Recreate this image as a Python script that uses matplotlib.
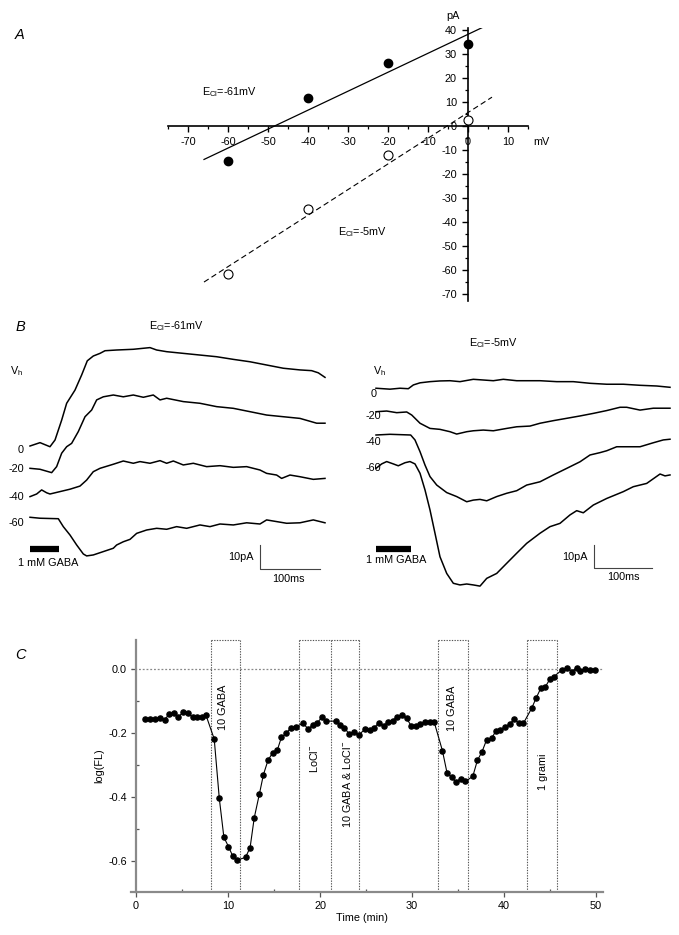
import matplotlib
matplotlib.use('Agg')
import matplotlib.pyplot as plt
from matplotlib.ticker import MultipleLocator, FormatStrFormatter

plt.rcParams['font.family'] = ['Liberation Sans', 'DejaVu Sans']
plt.rcParams['mathtext.fontset'] = 'custom'
plt.rcParams['mathtext.rm'] = 'Liberation Sans'
plt.rcParams['mathtext.it'] = 'Liberation Sans:italic'
plt.rcParams['mathtext.default'] = 'regular'
plt.rcParams['axes.unicode_minus'] = False

# ---------------- Data: panel A (I-V relation) ----------------
iv_mv = [-60, -40, -20, 0]
iv_ecl61 = [-14.5, 11.8, 26.4, 34.0]
iv_ecl5 = [-61.8, -34.7, -12.1, 2.5]
fit61_slope, fit61_icpt = 0.79, 38.2
fit5_slope, fit5_icpt = 1.07, 5.6
fit_range = [-66, 6]
xticksA = [-70, -60, -50, -40, -30, -20, -10, 0, 10]
yticksA = [-70, -60, -50, -40, -30, -20, -10, 0, 10, 20, 30, 40]

# ---------------- Data: panel B (current traces, ms / pA, display offsets) ----------------
vh_labels = ['0', '-20', '-40', '-60']
# E_Cl = -61 mV
L0_t = [0, 16.7, 33.3, 41.7, 52.8, 61.1, 75, 86.1, 95.5, 105.5, 116.7, 125, 144.4, 172.2, 200, 211.1,
        227.8, 255.5, 283.3, 311.1, 338.9, 366.7, 394.4, 422.2, 450, 469.4, 480.5, 491.7]
L0_i = [0, 1.4, -0.3, 2.5, 10.8, 17.8, 23.3, 29.6, 35.5, 37.5, 38.6, 39.7, 40.0, 40.3, 41.0, 40.0,
        39.3, 38.6, 37.9, 37.2, 36.1, 35.1, 33.75, 32.4, 31.7, 31.4, 30.5, 28.6]
L20_t = [0, 16.7, 36.1, 44.4, 52.8, 61.1, 69.4, 80.5, 91.7, 102.8, 111.1, 122.2, 138.9, 155.5, 172.2,
         188.9, 205.5, 216.7, 227.8, 255.5, 283.3, 311.1, 338.9, 366.7, 394.4, 422.2, 450, 477.8, 491.7]
L20_i = [-9.3, -9.7, -11.1, -8.6, -3.0, -0.3, 1.1, 6.0, 12.2, 15.0, 19.2, 20.5, 21.25, 20.5, 21.25,
         20.3, 21.25, 19.2, 19.9, 18.5, 17.8, 16.4, 15.7, 14.3, 12.9, 12.2, 11.5, 9.5, 9.5]
L40_t = [0, 11.1, 19.4, 27.8, 33.3, 50, 66.7, 83.3, 94.4, 105.5, 116.7, 138.9, 155.5, 172.2, 183.3, 200,
         216.7, 227.8, 238.9, 255.5, 272.2, 294.4, 316.7, 338.9, 361.1, 383.3, 394.4, 411.1, 419.4,
         433.3, 450, 472.2, 491.7]
L40_i = [-21.1, -20.0, -18.3, -19.5, -20.0, -19.0, -18.0, -16.7, -14.2, -10.7, -9.3, -7.6, -6.25, -7.2,
         -6.5, -7.2, -6.1, -7.2, -6.25, -7.9, -7.2, -8.6, -8.2, -8.9, -8.6, -10.0, -11.4, -12.1, -13.5,
         -12.1, -12.8, -13.9, -13.5]
L60_t = [0, 16.7, 47.2, 55.5, 66.7, 77.8, 88.9, 94.4, 105.5, 122.2, 138.9, 144.4, 155.5, 166.7, 177.8,
         194.4, 211.1, 227.8, 244.4, 261.1, 283.3, 300, 316.7, 338.9, 361.1, 383.3, 394.4, 411.1, 427.8,
         450, 472.2, 491.7]
L60_i = [-29.7, -30.1, -30.3, -33.6, -37.1, -41.25, -45.0, -45.8, -45.4, -44.0, -42.6, -41.25, -39.9,
         -38.9, -36.4, -35.0, -34.3, -34.7, -33.6, -34.3, -32.9, -33.6, -32.5, -32.9, -32.0, -32.5, -30.8,
         -31.5, -32.2, -32.0, -30.8, -32.0]
# E_Cl = -5 mV
R0_t = [0, 24.1, 41.4, 55.7, 64.4, 75.9, 93.1, 110.3, 127.6, 144.8, 167.8, 185.0, 202.3, 219.5, 242.6,
        265.5, 282.8, 311.6, 340.2, 369.0, 397.8, 426.4, 455.2, 484.0, 506.9]
R0_i = [-0.1, -0.5, -0.1, -0.3, 1.3, 2.2, 2.7, 3.0, 3.1, 2.7, 3.7, 3.4, 3.1, 3.7, 3.1, 3.1, 3.1, 2.7,
        2.7, 2.0, 1.6, 1.6, 1.15, 0.85, 0.3]
R20_t = [0, 18.4, 35.7, 52.9, 61.6, 75.9, 93.1, 110.3, 127.6, 139.1, 156.4, 167.8, 185.0, 202.3, 225.3,
         242.6, 265.5, 282.8, 305.7, 328.8, 351.7, 374.7, 397.8, 420.7, 432.2, 455.2, 478.1, 506.9]
R20_i = [-10.1, -9.8, -10.5, -10.2, -11.5, -15.0, -17.2, -17.6, -18.6, -19.6, -18.6, -18.2, -17.9,
         -18.2, -17.2, -16.5, -16.2, -15.0, -13.9, -12.9, -11.9, -10.8, -9.6, -8.2, -8.2, -9.4, -8.6, -8.6]
R40_t = [0, 24.1, 59.8, 67.2, 75.9, 84.5, 93.1, 104.7, 121.9, 139.1, 156.4, 167.8, 179.3, 190.9, 208.1,
         225.3, 242.6, 259.8, 282.8, 305.7, 328.8, 351.7, 369.0, 386.2, 397.8, 415.0, 432.2, 455.2,
         478.1, 495.3, 506.9]
R40_i = [-20.0, -19.7, -20.0, -22.1, -27.1, -32.8, -37.7, -41.3, -44.5, -46.2, -48.4, -47.7, -47.4,
         -48.0, -46.2, -44.8, -43.7, -41.3, -39.9, -37.0, -34.2, -31.4, -28.5, -27.5, -26.7, -25.0,
         -25.0, -25.0, -23.3, -22.1, -21.8]
R60_t = [0, 9.8, 18.4, 29.8, 38.4, 50.0, 58.6, 67.2, 75.9, 84.5, 93.1, 101.7, 110.3, 121.9, 133.3, 144.8,
         156.4, 167.8, 179.3, 190.9, 208.1, 225.3, 242.6, 259.8, 282.8, 300.0, 317.2, 334.5, 346.0,
         357.4, 374.7, 397.8, 426.4, 443.6, 466.7, 489.7, 498.3, 506.9]
R60_i = [-34.2, -32.3, -31.3, -32.3, -33.1, -31.8, -31.3, -32.3, -36.3, -43.4, -51.9, -61.8, -71.8,
         -78.9, -83.1, -83.8, -83.4, -83.8, -84.3, -81.0, -78.9, -74.6, -70.3, -66.1, -61.8, -59.0,
         -57.6, -54.0, -52.2, -53.1, -49.8, -47.0, -44.1, -42.0, -40.6, -36.6, -37.4, -37.0]
gaba_left_ms = [0, 48]
gaba_right_ms = [0, 60]

# ---------------- Data: panel C (time course) ----------------
c_time = [1.0, 1.55, 2.05, 2.6, 3.1, 3.6, 4.1, 4.6, 5.15, 5.65, 6.15, 6.65, 7.15, 7.6,
          8.5, 9.05, 9.55, 10.05, 10.5, 11.0,
          11.9, 12.4, 12.85, 13.4, 13.85, 14.35, 14.85, 15.35, 15.8, 16.35, 16.85, 17.35,
          18.2, 18.7, 19.2, 19.7, 20.2, 20.65,
          21.7, 22.15, 22.65, 23.15, 23.7, 24.2,
          24.9, 25.4, 25.9, 26.4, 26.9, 27.4, 27.9, 28.4, 28.9, 29.4, 29.9, 30.4, 30.9, 31.4, 31.9, 32.4,
          33.3, 33.8, 34.3, 34.75, 35.3, 35.8,
          36.6, 37.1, 37.6, 38.1, 38.65, 39.1, 39.6, 40.1, 40.6, 41.1, 41.6, 42.1,
          43.0, 43.5, 44.0, 44.5, 45.0, 45.4,
          46.3, 46.8, 47.35, 47.9, 48.3, 48.8, 49.3, 49.9]
c_logfl = [-0.157, -0.157, -0.157, -0.153, -0.159, -0.141, -0.139, -0.149, -0.135, -0.139, -0.151,
           -0.151, -0.151, -0.144,
           -0.219, -0.404, -0.526, -0.555, -0.584, -0.597,
           -0.589, -0.558, -0.465, -0.392, -0.330, -0.285, -0.262, -0.254, -0.214, -0.200, -0.183, -0.180,
           -0.170, -0.188, -0.175, -0.168, -0.151, -0.163,
           -0.163, -0.175, -0.183, -0.203, -0.196, -0.206,
           -0.188, -0.191, -0.183, -0.168, -0.177, -0.166, -0.161, -0.149, -0.144, -0.154, -0.177,
           -0.177, -0.173, -0.165, -0.165, -0.165,
           -0.255, -0.324, -0.339, -0.353, -0.343, -0.351,
           -0.336, -0.286, -0.259, -0.222, -0.217, -0.194, -0.191, -0.180, -0.173, -0.156, -0.170, -0.170,
           -0.123, -0.090, -0.060, -0.055, -0.031, -0.024,
           -0.003, 0.004, -0.008, 0.004, -0.005, -0.001, -0.003, -0.003]
box_labels = ['10 GABA', 'LoCl$^{-}$', '10 GABA & LoCl$^{-}$', '10 GABA', '1 grami']
box_start = [8.15, 17.7, 21.2, 32.8, 42.5]
box_end = [11.3, 21.2, 24.2, 36.1, 45.8]
box_text_x = [9.5, 19.3, 22.9, 34.3, 44.2]
box_text_y = [-0.12, -0.28, -0.36, -0.124, -0.32]

W, H = 679, 935
fig = plt.figure(figsize=(W / 100, H / 100), dpi=100)


def px_axes(x0, y0, x1, y1):
    return fig.add_axes([x0 / W, 1 - y1 / H, (x1 - x0) / W, (y1 - y0) / H])


FS = 7.8
# ======================= Panel A =======================
axA = px_axes(168, 27.6, 528, 301.2)
axA.set_xlim(-75, 15)
axA.set_ylim(-73, 41)
axA.patch.set_visible(False)
for s in ['top', 'right']:
    axA.spines[s].set_visible(False)
axA.spines['left'].set_position(('data', 0))
axA.spines['bottom'].set_position(('data', 0))
for s in ['left', 'bottom']:
    axA.spines[s].set_linewidth(1.2)
axA.set_xticks(xticksA)
axA.set_yticks(yticksA)
axA.xaxis.set_minor_locator(MultipleLocator(5))
axA.yaxis.set_minor_locator(MultipleLocator(5))
axA.tick_params(which='major', direction='out', length=4, width=1.0, labelsize=FS, pad=4)
axA.tick_params(which='minor', direction='out', length=2.5, width=0.9)
fx = [fit_range[0], fit_range[1]]
axA.plot(fx, [fit61_slope * v + fit61_icpt for v in fx], color='black', lw=0.9)
axA.plot(fx, [fit5_slope * v + fit5_icpt for v in fx], color='black', lw=0.8, ls=(0, (5, 3)))
axA.plot(iv_mv, iv_ecl61, 'o', color='black', ms=6, zorder=5)
axA.plot(iv_mv, iv_ecl5, 'o', mfc='white', mec='black', mew=0.8, ms=6.5, zorder=5)
axA.text(-3.75, 45.8, 'pA', fontsize=FS, ha='center', va='center', clip_on=False)
axA.text(18.25, -6.7, 'mV', fontsize=FS, ha='center', va='center', clip_on=False)
axA.text(-59.5, 14.3, 'E$_{Cl}$=-61mV', fontsize=FS, ha='center', va='center')
axA.text(-26.25, -44.2, 'E$_{Cl}$=-5mV', fontsize=FS, ha='center', va='center')
fig.text(20 / W, 1 - 35 / H, 'A', fontsize=10.5, style='italic', ha='center', va='center')

# ======================= Panel B =======================
trace_lw = 1.1
axBL = px_axes(0, 310, 340, 600)
axBL.set_xlim(-50, 516.7)
axBL.set_ylim(-64.17, 56.67)
axBL.axis('off')
for tt, ii in [(L0_t, L0_i), (L20_t, L20_i), (L40_t, L40_i), (L60_t, L60_i)]:
    axBL.plot(tt, ii, color='black', lw=trace_lw)
for lab, yy in zip(vh_labels, [-1.7, -9.6, -21.1, -32.0]):
    axBL.text(-10, yy, lab, fontsize=FS, ha='right', va='center')
axBL.text(-33, 31.4, 'V$_h$', fontsize=FS, ha='left', va='center')
axBL.text(244, 50, 'E$_{Cl}$=-61mV', fontsize=FS, ha='center', va='center')
axBL.plot(gaba_left_ms, [-43.1, -43.1], color='black', lw=4.5, solid_capstyle='butt')
axBL.text(30, -48.75, '1 mM GABA', fontsize=FS, ha='center', va='center')
axBL.plot([383.3, 383.3, 483.3], [-41.25, -51.25, -51.25], color='#444444', lw=0.8)
axBL.text(373, -46.3, '10pA', fontsize=FS, ha='right', va='center')
axBL.text(430, -55.3, '100ms', fontsize=FS, ha='center', va='center')
fig.text(20 / W, 1 - 327 / H, 'B', fontsize=10.5, style='italic', ha='center', va='center')

axBR = px_axes(340, 310, 679, 600)
axBR.set_xlim(-62.07, 522.4)
axBR.set_ylim(-90.21, 33.19)
axBR.axis('off')
for tt, ii in [(R0_t, R0_i), (R20_t, R20_i), (R40_t, R40_i), (R60_t, R60_i)]:
    axBR.plot(tt, ii, color='black', lw=trace_lw)
for lab, yy in zip(vh_labels, [-2.6, -11.8, -23.1, -34.2]):
    axBR.text(-4, yy, lab, fontsize=FS, ha='center', va='center')
axBR.text(6.9, 7.2, 'V$_h$', fontsize=FS, ha='center', va='center')
axBR.text(202, 19.3, 'E$_{Cl}$=-5mV', fontsize=FS, ha='center', va='center')
axBR.plot(gaba_right_ms, [-68.3, -68.3], color='black', lw=4.5, solid_capstyle='butt')
axBR.text(34.5, -73.3, '1 mM GABA', fontsize=FS, ha='center', va='center')
axBR.plot([375.9, 375.9, 475.9], [-66.6, -76.6, -76.6], color='#444444', lw=0.8)
axBR.text(365, -72.0, '10pA', fontsize=FS, ha='right', va='center')
axBR.text(426, -80.6, '100ms', fontsize=FS, ha='center', va='center')

# ======================= Panel C =======================
c_ylim = (-0.697, 0.0906)
axC = px_axes(130.5, 640, 603.4, 892)
axC.set_xlim(-0.6, 50.8)
axC.set_ylim(*c_ylim)
for s in ['top', 'right']:
    axC.spines[s].set_visible(False)
axC.spines['left'].set_position(('data', 0))
for s in ['left', 'bottom']:
    axC.spines[s].set_color('#8a8a8a')
    axC.spines[s].set_linewidth(1.6)
axC.set_xticks([0, 10, 20, 30, 40, 50])
axC.set_yticks([0.0, -0.2, -0.4, -0.6])
axC.yaxis.set_major_formatter(FormatStrFormatter('%.1f'))
axC.xaxis.set_minor_locator(MultipleLocator(5))
axC.yaxis.set_minor_locator(MultipleLocator(0.1))
axC.tick_params(which='major', direction='out', length=3.5, width=0.9, color='#555555',
                labelsize=FS, pad=3)
axC.tick_params(which='minor', direction='in', length=2.5, width=0.9, color='#555555')
axC.axhline(0, xmin=0, xmax=1, color='#888888', lw=0.9, ls=(0, (1.5, 1.5)), zorder=1)
box_ls = (0, (1.2, 1.2))
edges = sorted(set(box_start + box_end))
axC.vlines(edges, c_ylim[0], c_ylim[1], colors='#555555', lw=0.8, linestyles=[box_ls], zorder=1)
axC.hlines([c_ylim[1]] * len(box_start), box_start, box_end, colors='#555555', lw=0.8,
           linestyles=[box_ls], zorder=1, clip_on=False)
for lab, tx, ty in zip(box_labels, box_text_x, box_text_y):
    axC.text(tx, ty, lab, rotation=90, fontsize=FS, ha='center', va='center')
axC.plot(c_time, c_logfl, '-o', color='black', lw=0.8, ms=3.7, zorder=3)
axC.set_xlabel('Time (min)', fontsize=FS, labelpad=6)
axC.set_ylabel('log(FL)', fontsize=FS, labelpad=3)
axC.xaxis.set_label_coords((362 - 130.5) / (603.4 - 130.5), -0.085)
fig.text(20 / W, 1 - 655 / H, 'C', fontsize=10.5, style='italic', ha='center', va='center')

fig.savefig('out.png', dpi=100)
